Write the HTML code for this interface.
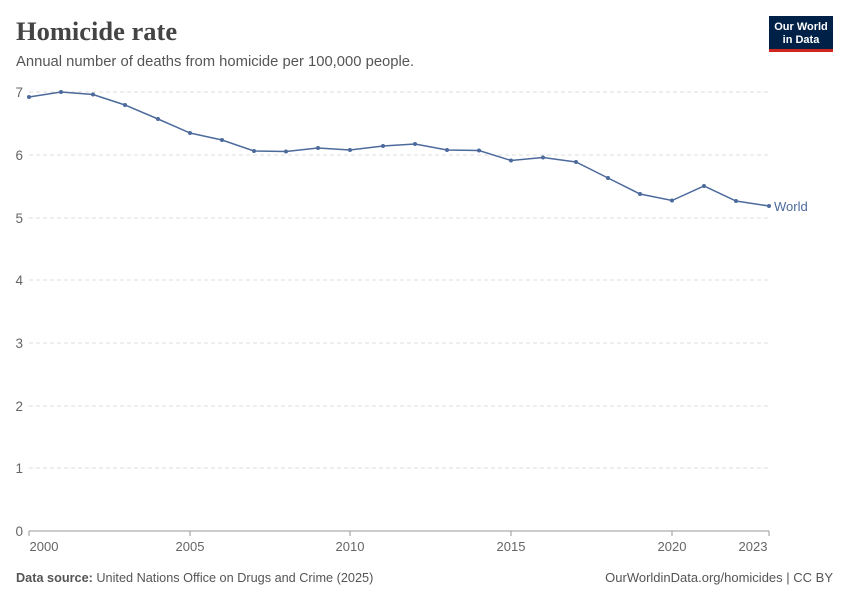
<!DOCTYPE html>
<html><head><meta charset="utf-8"><style>
body{margin:0;background:#fff;width:850px;height:600px;overflow:hidden;font-family:"Liberation Sans",sans-serif}
</style></head><body>
<svg width="850" height="600" xmlns="http://www.w3.org/2000/svg" font-family="Liberation Sans, sans-serif">
<text x="16" y="40" font-family="Liberation Serif, serif" font-size="26.5" fill="#444" font-weight="bold">Homicide rate</text>
<text x="16" y="66" font-size="14.8" fill="#555">Annual number of deaths from homicide per 100,000 people.</text>
<rect x="769" y="16" width="64" height="34" fill="#002147"/>
<rect x="769" y="49" width="64" height="3" fill="#ce261e"/>
<text x="801" y="30" font-size="11" fill="#fff" text-anchor="middle" font-weight="bold">Our World</text>
<text x="801" y="43" font-size="11" fill="#fff" text-anchor="middle" font-weight="bold">in Data</text>
<g stroke="#ddd" stroke-dasharray="4,3" stroke-width="1">
<line x1="29" x2="769" y1="92" y2="92"/><line x1="29" x2="769" y1="155" y2="155"/>
<line x1="29" x2="769" y1="218" y2="218"/><line x1="29" x2="769" y1="280" y2="280"/>
<line x1="29" x2="769" y1="343" y2="343"/><line x1="29" x2="769" y1="406" y2="406"/>
<line x1="29" x2="769" y1="468" y2="468"/>
</g>
<line x1="29" x2="769" y1="531" y2="531" stroke="#999"/>
<g font-size="13.5" fill="#666" text-anchor="end">
<text x="23" y="97">7</text><text x="23" y="160">6</text><text x="23" y="223">5</text>
<text x="23" y="285">4</text><text x="23" y="348">3</text><text x="23" y="411">2</text>
<text x="23" y="473">1</text><text x="23" y="536">0</text>
</g>
<g font-size="13" fill="#666" text-anchor="middle">
<text x="44" y="551">2000</text><text x="190" y="551">2005</text><text x="350" y="551">2010</text>
<text x="511" y="551">2015</text><text x="672" y="551">2020</text><text x="753" y="551">2023</text>
</g>
<g stroke="#999"><line x1="190" x2="190" y1="531" y2="536"/><line x1="350" x2="350" y1="531" y2="536"/><line x1="511" x2="511" y1="531" y2="536"/><line x1="672" x2="672" y1="531" y2="536"/><line x1="769" x2="769" y1="531" y2="536"/><line x1="29" x2="29" y1="531" y2="536"/></g>
<polyline fill="none" stroke="#4c6a9c" stroke-width="1.5" points="29,97 61,92 93,94.5 125,105 158,119 190,133 222,140 254,151 286,151.5 318,148 350,150 383,146 415,144 447,150 479,150.5 511,160.5 543,157.5 576,162 608,178 640,194 672,200.5 704,186 736,201 769,206"/>
<g fill="#4c6a9c">
<circle cx="29" cy="97" r="2"/><circle cx="61" cy="92" r="2"/><circle cx="93" cy="94.5" r="2"/><circle cx="125" cy="105" r="2"/><circle cx="158" cy="119" r="2"/><circle cx="190" cy="133" r="2"/><circle cx="222" cy="140" r="2"/><circle cx="254" cy="151" r="2"/><circle cx="286" cy="151.5" r="2"/><circle cx="318" cy="148" r="2"/><circle cx="350" cy="150" r="2"/><circle cx="383" cy="146" r="2"/><circle cx="415" cy="144" r="2"/><circle cx="447" cy="150" r="2"/><circle cx="479" cy="150.5" r="2"/><circle cx="511" cy="160.5" r="2"/><circle cx="543" cy="157.5" r="2"/><circle cx="576" cy="162" r="2"/><circle cx="608" cy="178" r="2"/><circle cx="640" cy="194" r="2"/><circle cx="672" cy="200.5" r="2"/><circle cx="704" cy="186" r="2"/><circle cx="736" cy="201" r="2"/><circle cx="769" cy="206" r="2"/>
</g>
<text x="774" y="211" font-size="13" fill="#4c6a9c">World</text>
<text x="16" y="582" font-size="12.7" fill="#555"><tspan font-weight="bold">Data source:</tspan> United Nations Office on Drugs and Crime (2025)</text>
<text x="833" y="582" font-size="13" fill="#555" text-anchor="end">OurWorldinData.org/homicides | CC BY</text>
</svg>
</body></html>
